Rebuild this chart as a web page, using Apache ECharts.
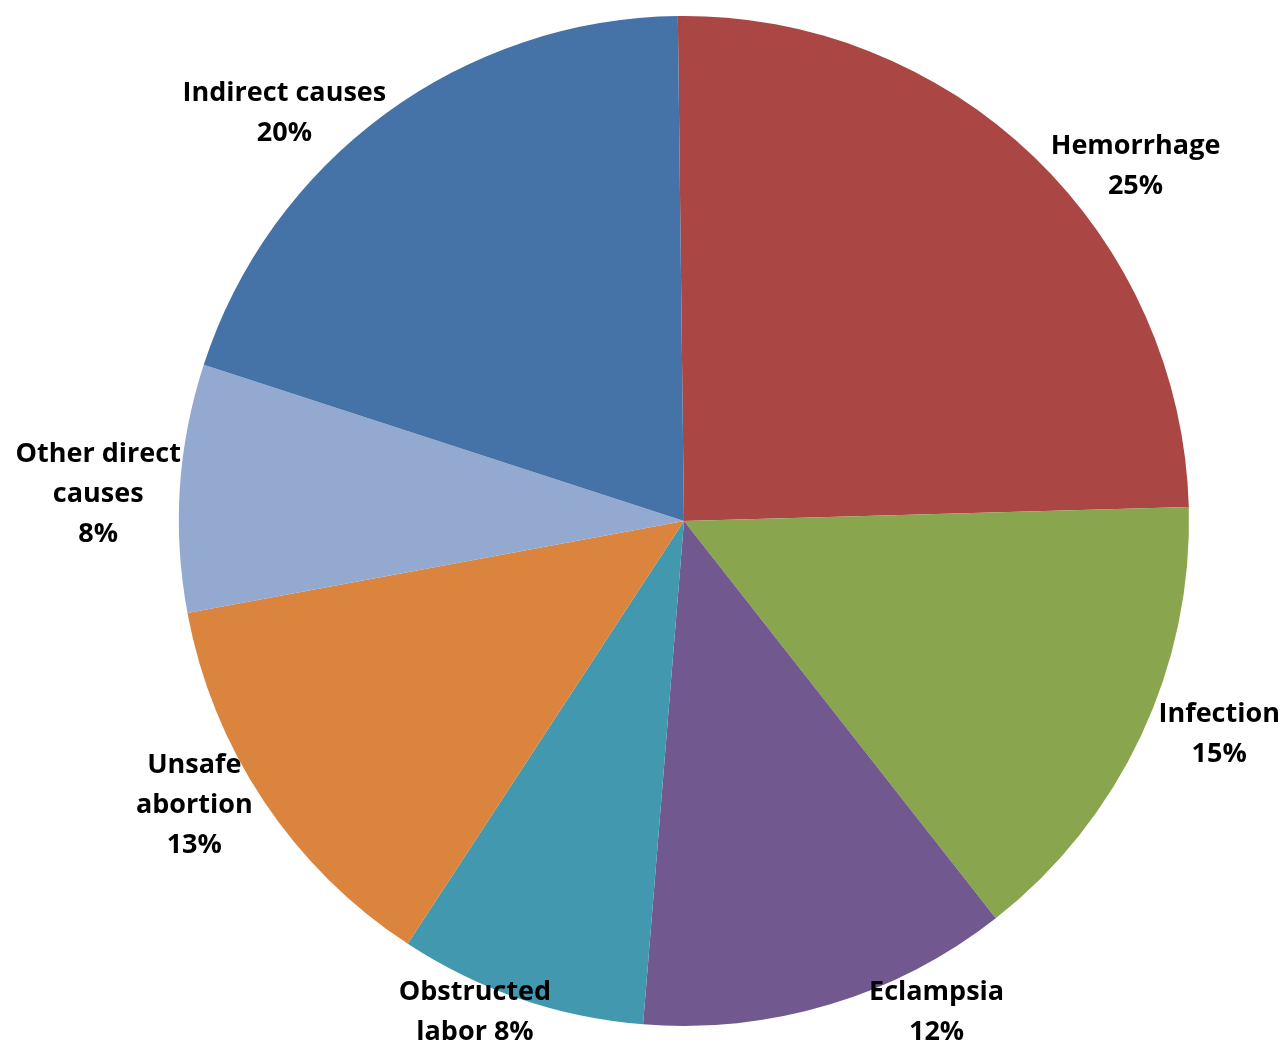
<!DOCTYPE html>
<html>
<head>
<meta charset="utf-8">
<script src="https://cdn.jsdelivr.net/npm/echarts@6/dist/echarts.min.js"></script>
<style>
html,body{margin:0;padding:0;background:#fff;}
#chart{width:1288px;height:1060px;}
</style>
</head>
<body>
<div id="chart"></div>
<script>
// Data (percent of maternal deaths)
const categories = ["Hemorrhage", "Infection", "Eclampsia", "Obstructed labor", "Unsafe abortion", "Other direct causes", "Indirect causes"];
const values = [25, 15, 12, 8, 13, 8, 20];
// How each label's name is wrapped before its percentage
const labelNames = ["Hemorrhage\n", "Infection\n", "Eclampsia\n", "Obstructed\nlabor ", "Unsafe\nabortion\n", "Other direct\ncauses\n", "Indirect causes\n"];

// Styles (kept out of the data arrays)
const colors = ["#AA4643", "#89A54E", "#71588F", "#4198AF", "#DB843D", "#93A9CF", "#4572A7"];
const labelNudge = [[58, 55], [21, -28], [89, -53], [-25, -46], [-17, -31], [-19, 11], [-63, 50]];

const chart = echarts.init(document.getElementById('chart'), null, {renderer: 'canvas'});

const pieData = categories.map((c, i) => ({name: c, value: values[i], itemStyle: {color: colors[i]}}));
const labelData = categories.map((c, i) => ({
  name: c, value: values[i],
  label: {offset: labelNudge[i]}
}));

chart.setOption({
  animation: false,
  backgroundColor: '#ffffff',
  series: [
    {
      type: 'pie',
      center: [684, 521],
      radius: [0, 505],
      startAngle: 90.7,
      clockwise: true,
      silent: true,
      label: {show: false},
      labelLine: {show: false},
      itemStyle: {borderWidth: 0},
      emphasis: {disabled: true},
      data: pieData
    },
    {
      type: 'pie',
      center: [684, 521],
      radius: [540, 590],
      startAngle: 90.7,
      clockwise: true,
      silent: true,
      z: 5,
      itemStyle: {color: 'rgba(0,0,0,0)', borderWidth: 0},
      emphasis: {disabled: true},
      labelLine: {show: false},
      label: {
        show: true,
        position: 'inside',
        color: '#000',
        fontFamily: 'Open Sans',
        fontWeight: 'bold',
        fontSize: 27,
        lineHeight: 40,
        align: 'center',
        formatter: p => labelNames[p.dataIndex] + p.value + '%'
      },
      data: labelData
    }
  ]
});
</script>
</body>
</html>
